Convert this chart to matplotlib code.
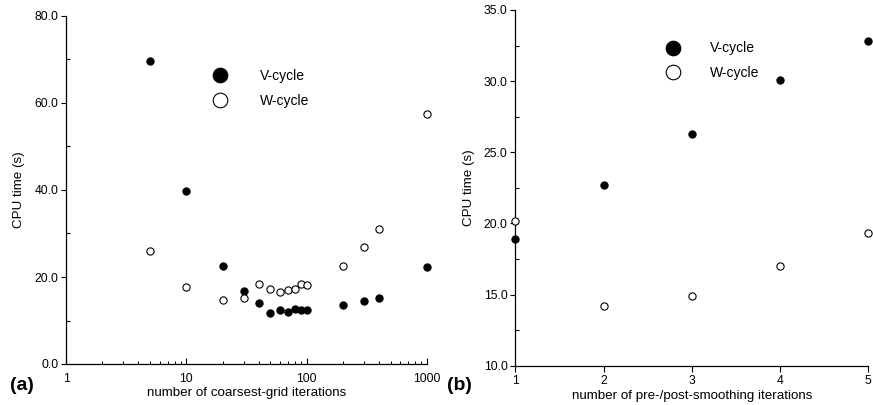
import matplotlib
matplotlib.use("Agg")
import matplotlib.pyplot as plt
from matplotlib.ticker import FixedLocator, NullFormatter, LogLocator
from matplotlib.lines import Line2D

plt.rcParams['font.family'] = ['Liberation Sans', 'DejaVu Sans']

# Panel (a): CPU time vs number of coarsest-grid iterations
coarse_iters = [5, 10, 20, 30, 40, 50, 60, 70, 80, 90, 100, 200, 300, 400, 1000]
v_cycle_a = [69.7, 39.8, 22.6, 16.8, 14.1, 11.8, 12.4, 12.0, 12.7, 12.3, 12.5, 13.5, 14.5, 15.1, 22.3]
w_cycle_a = [26.0, 17.8, 14.7, 15.1, 18.5, 17.2, 16.6, 17.1, 17.3, 18.4, 18.1, 22.6, 26.9, 31.1, 57.4]
yticks_a = [0, 20, 40, 60, 80]
xticks_a = [1, 10, 100, 1000]
xticklabels_a = ["1", "10", "100", "1000"]

# Panel (b): CPU time vs number of pre-/post-smoothing iterations
smooth_iters = [1, 2, 3, 4, 5]
v_cycle_b = [18.9, 22.7, 26.3, 30.1, 32.8]
w_cycle_b = [20.2, 14.2, 14.9, 17.0, 19.3]
yticks_b = [10, 15, 20, 25, 30, 35]

W, H = 873, 405
fig = plt.figure(figsize=(W / 100, H / 100), dpi=100)

def frac(x0, x1, ytop, ybot):
    return [x0 / W, 1 - ybot / H, (x1 - x0) / W, (ybot - ytop) / H]

ax1 = fig.add_axes(frac(66, 427, 16, 364))
ax2 = fig.add_axes(frac(515.3, 868.3, 10, 365.7))

fs_tick = 8.7
fs_label = 9.6
fs_leg = 10
ms = 5.2

def style(ax):
    for s in ['top', 'right']:
        ax.spines[s].set_visible(False)
    for s in ['left', 'bottom']:
        ax.spines[s].set_linewidth(0.9)
    ax.tick_params(axis='y', which='major', direction='out', length=3.5, width=0.8, labelsize=fs_tick, pad=2)
    ax.tick_params(axis='y', which='minor', direction='in', length=3, width=0.8)
    ax.tick_params(axis='x', which='major', length=4, width=0.8, labelsize=fs_tick, pad=3)
    ax.tick_params(axis='x', which='minor', direction='in', length=2.5, width=0.7)

# ---- panel (a)
ax1.set_xscale('log')
ax1.scatter(coarse_iters, v_cycle_a, s=ms**2, c='black', edgecolors='black', linewidths=0.8, zorder=3, clip_on=False)
ax1.scatter(coarse_iters, w_cycle_a, s=ms**2, facecolors='white', edgecolors='black', linewidths=0.8, zorder=3, clip_on=False)
ax1.set_xlim(1, 1000)
ax1.set_ylim(0, 80)
ax1.set_yticks(yticks_a)
ax1.set_yticklabels([f"{v:.1f}" for v in yticks_a])
ax1.yaxis.set_minor_locator(FixedLocator([10, 30, 50, 70]))
ax1.set_xticks(xticks_a)
ax1.set_xticklabels(xticklabels_a)
ax1.xaxis.set_minor_locator(LogLocator(base=10, subs=range(2, 10)))
ax1.xaxis.set_minor_formatter(NullFormatter())
style(ax1)
ax1.tick_params(axis='x', which='major', direction='in', pad=6.5)
ax1.set_xlabel("number of coarsest-grid iterations", fontsize=fs_label, labelpad=1.5)
ax1.set_ylabel("CPU time (s)", fontsize=fs_label, labelpad=7)

# ---- panel (b)
ax2.scatter(smooth_iters, v_cycle_b, s=ms**2, c='black', edgecolors='black', linewidths=0.8, zorder=3, clip_on=False)
ax2.scatter(smooth_iters, w_cycle_b, s=ms**2, facecolors='white', edgecolors='black', linewidths=0.8, zorder=3, clip_on=False)
ax2.set_xlim(1, 5)
ax2.set_ylim(10, 35)
ax2.set_yticks(yticks_b)
ax2.set_yticklabels([f"{v:.1f}" for v in yticks_b])
ax2.yaxis.set_minor_locator(FixedLocator([12.5, 17.5, 22.5, 27.5, 32.5]))
ax2.set_xticks(smooth_iters)
style(ax2)
ax2.tick_params(axis='x', which='major', direction='out')
ax2.set_xlabel("number of pre-/post-smoothing iterations", fontsize=fs_label, labelpad=1.5)
ax2.set_ylabel("CPU time (s)", fontsize=fs_label, labelpad=6)

# ---- legends
handles = [
    Line2D([], [], ls='none', marker='o', ms=10.5, mfc='black', mec='black', mew=0.8),
    Line2D([], [], ls='none', marker='o', ms=10.5, mfc='white', mec='black', mew=0.8),
]
labels = ["V-cycle", "W-cycle"]
ax1.legend(handles, labels, loc='center left', bbox_to_anchor=(0.378, 0.792), frameon=False,
           fontsize=fs_leg, borderpad=0, handlelength=1.5, handletextpad=2.13, labelspacing=0.78)
ax2.legend(handles, labels, loc='center left', bbox_to_anchor=(0.397, 0.857), frameon=False,
           fontsize=fs_leg, borderpad=0, handlelength=1.5, handletextpad=1.9, labelspacing=0.78)

fig.text(10 / W, 1 - 386 / H, "(a)", fontsize=14, fontweight='bold', va='center', ha='left')
fig.text(447 / W, 1 - 386 / H, "(b)", fontsize=14, fontweight='bold', va='center', ha='left')

fig.savefig("out.png", dpi=100)
